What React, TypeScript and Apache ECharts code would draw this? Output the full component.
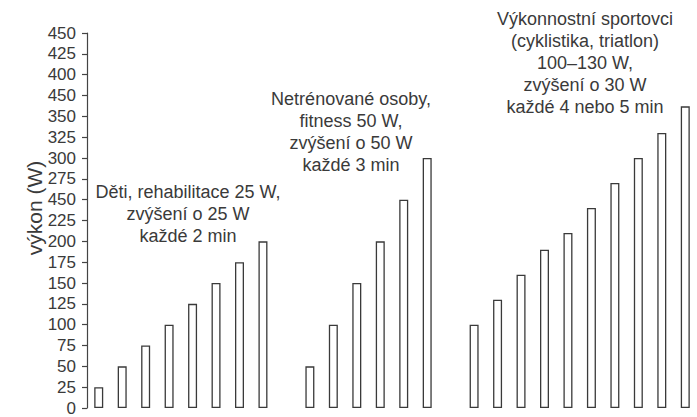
import React, { useEffect, useRef } from "react";
import * as echarts from "echarts";

// Data
const childrenValues = [25, 50, 75, 100, 125, 150, 175, 200];
const untrainedValues = [50, 100, 150, 200, 250, 300];
const athleteValues = [100, 130, 160, 190, 210, 240, 270, 300, 330, 362];

// Tick labels exactly as printed (the original contains two misprints "450")
const yTickLabels = [
  "0", "25", "50", "75", "100", "125", "150", "175", "200", "225",
  "450", "275", "300", "325", "350", "450", "400", "425", "450",
];

const childrenNote = ["Děti, rehabilitace 25 W,", "zvýšení o 25 W", "každé 2 min"];
const untrainedNote = ["Netrénované osoby,", "fitness 50 W,", "zvýšení o 50 W", "každé 3 min"];
const athleteNote = [
  "Výkonnostní sportovci",
  "(cyklistika, triatlon)",
  "100–130 W,",
  "zvýšení o 30 W",
  "každé 4 nebo 5 min",
];
const yAxisTitle = "výkon (W)";

const TEXT_COLOR = "#3a3a3a";
const FONT = "'Liberation Sans', Arial, sans-serif";

export default function App() {
  const ref = useRef<HTMLDivElement>(null);

  useEffect(() => {
    if (!ref.current) return;
    const chart = echarts.init(ref.current, null, { renderer: "svg" });

    const values: (number | string)[] = [
      ...childrenValues,
      "-",
      ...untrainedValues,
      "-",
      ...athleteValues,
    ];
    const categories = values.map((_, i) => String(i));

    const noteText = (lines: string[], cx: number, firstY: number) =>
      lines.map((t, i) => ({
        type: "text",
        x: cx,
        y: firstY + i * 22,
        style: {
          text: t,
          fill: TEXT_COLOR,
          font: `18px ${FONT}`,
          textAlign: "center",
          textVerticalAlign: "middle",
        },
      }));

    chart.setOption({
      animation: false,
      backgroundColor: "#ffffff",
      grid: { left: 87, right: -3, top: 33, bottom: 9, containLabel: false },
      xAxis: {
        type: "category",
        data: categories,
        boundaryGap: true,
        axisLine: { show: false },
        axisTick: { show: false },
        axisLabel: { show: false },
        splitLine: { show: false },
      },
      yAxis: {
        type: "value",
        min: 0,
        max: 450,
        interval: 25,
        axisLine: { show: true, lineStyle: { color: "#444", width: 1.2 } },
        axisTick: { show: true, inside: false, length: 5, lineStyle: { color: "#444", width: 1.2 } },
        axisLabel: {
          color: TEXT_COLOR,
          fontSize: 17,
          fontFamily: FONT,
          margin: 11,
          formatter: (v: number) => {
            const idx = Math.round(v / 25);
            return yTickLabels[idx] ?? String(v);
          },
        },
        splitLine: { show: false },
      },
      series: [
        {
          type: "bar",
          data: values,
          barWidth: 9,
          itemStyle: { color: "#ffffff", borderColor: "#3a3a3a", borderWidth: 1.3 },
        },
      ],
      graphic: [
        {
          type: "text",
          x: 34,
          y: 208,
          rotation: Math.PI / 2,
          style: {
            text: yAxisTitle,
            fill: TEXT_COLOR,
            font: `21px ${FONT}`,
            textAlign: "center",
            textVerticalAlign: "middle",
          },
        },
        ...noteText(childrenNote, 188, 192),
        ...noteText(untrainedNote, 351, 99),
        ...noteText(athleteNote, 585, 19),
      ],
    });

    return () => chart.dispose();
  }, []);

  return <div ref={ref} style={{ width: 697, height: 417, position: "absolute", left: 0, top: 0 }} />;
}
